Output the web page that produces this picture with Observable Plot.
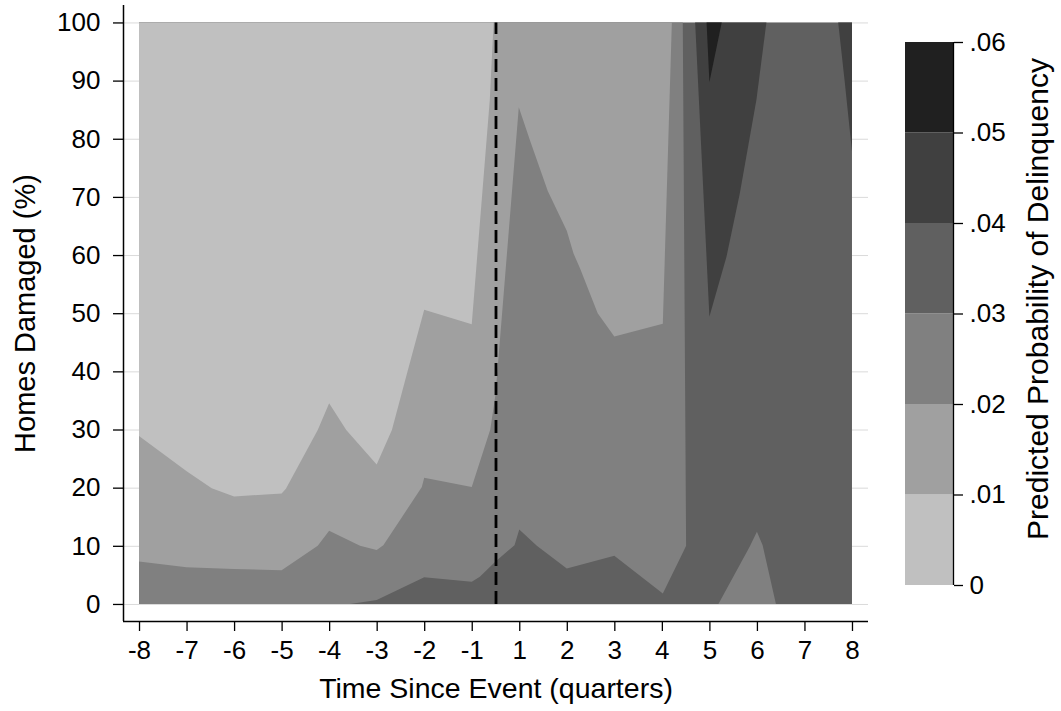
<!DOCTYPE html>
<html>
<head>
<meta charset="utf-8">
<script src="https://cdn.jsdelivr.net/npm/d3@7"></script>
<script src="https://cdn.jsdelivr.net/npm/@observablehq/plot@0.6"></script>
<style>
html, body { margin: 0; padding: 0; background: #fff; }
#wrap { position: relative; width: 1061px; height: 711px; overflow: hidden; }
#wrap svg { position: absolute; top: 0; overflow: visible; }
</style>
</head>
<body>
<div id="wrap"></div>
<script>
// ---- axis categories & ticks ----
const quarters = [-8, -7, -6, -5, -4, -3, -2, -1, 1, 2, 3, 4, 5, 6, 7, 8];
const yTicks = [0, 10, 20, 30, 40, 50, 60, 70, 80, 90, 100];
const levels = [0, 0.01, 0.02, 0.03, 0.04, 0.05, 0.06];
const levelColors = ["#c0c0c0", "#a0a0a0", "#808080", "#606060", "#404040", "#202020"];
const xTitle = "Time Since Event (quarters)";
const yTitle = "Homes Damaged (%)";
const legendTitle = "Predicted Probability of Delinquency";

// ---- contour region boundaries (x = position on the quarter axis, 0 = -8 ... 15 = 8; y = % homes damaged) ----
// .01-.02 band: lower edge (top edge = 100)
const band1X  = [0, 1, 2, 3, 3.76, 4, 4.65, 5, 5.14, 5.95, 6, 7, 7.39, 7.5, 7.99, 8.23, 8.6, 9.0, 9.14, 9.28, 9.65, 10, 11.02, 11.21];
const band1Lo = [7.3, 6.3, 6.0, 5.8, 10.0, 12.6, 10.0, 9.3, 10.1, 20.1, 21.7, 20.1, 30.0, 36.0, 85.4, 79.6, 71.0, 64.2, 60.3, 57.7, 50.0, 46.0, 48.2, 100];
// 0-.01 band (light, top-left): lower edge
const band0X  = [0, 1.01, 1.53, 2, 3, 3.09, 3.76, 4, 4.36, 5, 5.32, 5.65, 6, 7, 7.38, 7.46];
const band0Lo = [28.9, 22.8, 19.9, 18.5, 19.0, 19.8, 29.9, 34.5, 29.9, 24.0, 29.9, 40.0, 50.6, 48.1, 86.7, 100];
// .02-.03 band (left/centre): lower and upper edge
const band2X  = [0, 4.44, 5.0, 6.0, 7.0, 7.17, 7.5, 7.9, 8.0, 8.37, 9.0, 10.0, 11.02, 11.44, 11.51];
const band2Lo = [0, 0, 0.7, 4.6, 3.8, 4.7, 7.3, 10.1, 12.8, 10.0, 6.1, 8.3, 1.8, 8.8, 10.0];
const band2Hi = [100, 100, 100, 100, 100, 100, 100, 100, 100, 100, 100, 100, 100, 100, 10.0];
// .02-.03 band (bottom triangle near quarter 6)
const band2bX  = [12.19, 12.85, 13.0, 13.12, 13.4];
const band2bHi = [0, 9.9, 12.4, 10.1, 0];
// .04-.05 band (top wedge near quarter 5-6): lower edge
const band4X  = [11.7, 12.0, 12.36, 12.64, 12.99, 13.2];
const band4Lo = [100, 49.4, 59.7, 70.6, 86.7, 100];
// .04-.05 band (top-right corner)
const band4bX  = [14.71, 14.85, 15];
const band4bLo = [100, 89.6, 77.8];
// .05-.06 band (top tip near quarter 5)
const band5X  = [11.94, 12.0, 12.26];
const band5Lo = [100, 89.7, 100];

// ---- layout ----
const FONT = '"Liberation Sans", Arial, Helvetica, sans-serif';
const pos = d3.range(quarters.length);
const eventPos = quarters.indexOf(-1) + 0.5;
const xDomain = [-0.337, pos[pos.length - 1] + 0.337];
const yDomain = [-2.93, 103.0];
const yTop = yTicks[yTicks.length - 1];
const yBottom = yTicks[0];

function rows(xs, lo, hi) {
  return xs.map((x, i) => ({
    x,
    y1: lo === null ? yBottom : lo[i],
    y2: hi === null ? yTop : hi[i]
  }));
}
const fullRect = rows([pos[0], pos[pos.length - 1]], null, null);

const areaOpts = (fill) => ({x: "x", y1: "y1", y2: "y2", fill, stroke: "none"});

const main = Plot.plot({
  width: 1061,
  height: 711,
  marginLeft: 123,
  marginRight: 193,
  marginTop: 5,
  marginBottom: 90,
  style: {fontFamily: FONT, fontSize: "26px", color: "#000", background: "transparent"},
  x: {domain: xDomain, label: null},
  y: {domain: yDomain, label: null},
  marks: [
    Plot.gridY(yTicks, {stroke: "#dadada", strokeOpacity: 1, strokeWidth: 1}),
    Plot.areaY(fullRect, areaOpts(levelColors[3])),
    Plot.areaY(rows(band2X, band2Lo, band2Hi), areaOpts(levelColors[2])),
    Plot.areaY(rows(band2bX, null, band2bHi), areaOpts(levelColors[2])),
    Plot.areaY(rows(band1X, band1Lo, null), areaOpts(levelColors[1])),
    Plot.areaY(rows(band0X, band0Lo, null), areaOpts(levelColors[0])),
    Plot.areaY(rows(band4X, band4Lo, null), areaOpts(levelColors[4])),
    Plot.areaY(rows(band4bX, band4bLo, null), areaOpts(levelColors[4])),
    Plot.areaY(rows(band5X, band5Lo, null), areaOpts(levelColors[5])),
    Plot.ruleX([eventPos], {y1: yBottom, y2: yTop, stroke: "#000", strokeWidth: 2.8, strokeDasharray: "13,6"}),
    Plot.ruleX([xDomain[0]], {stroke: "#000", strokeWidth: 1.5}),
    Plot.ruleY([yDomain[0]], {stroke: "#000", strokeWidth: 1.5}),
    Plot.axisX(pos, {tickSize: 10, tickPadding: 9, strokeWidth: 1.3, tickFormat: (i) => String(quarters[i]), label: null, fontSize: 26}),
    Plot.axisY(yTicks, {tickSize: 10, tickPadding: 13, strokeWidth: 1.3, label: null, fontSize: 26}),
    Plot.text([xTitle], {frameAnchor: "bottom", textAnchor: "middle", lineAnchor: "middle", dy: 67, fontSize: 28.5, fill: "#000"}),
    Plot.text([yTitle], {frameAnchor: "left", textAnchor: "middle", lineAnchor: "middle", dx: -98, rotate: -90, fontSize: 29, fill: "#000"})
  ]
});

const bands = levelColors.map((c, i) => ({lo: levels[i], hi: levels[i + 1], fill: c}));
const fmt = (d) => d === 0 ? "0" : d3.format(".2f")(d).replace(/^0/, "");

const bar = Plot.plot({
  width: 171,
  height: 711,
  marginLeft: 15,
  marginRight: 108,
  marginTop: 42,
  marginBottom: 126,
  style: {fontFamily: FONT, fontSize: "26px", color: "#000", background: "transparent"},
  x: {domain: [0, 1], axis: null},
  y: {domain: [levels[0], levels[levels.length - 1]], label: null},
  color: {type: "identity"},
  marks: [
    Plot.rect(bands, {y1: "lo", y2: "hi", fill: "fill"}),
    Plot.ruleX([1], {y1: levels[0], y2: levels[levels.length - 1], stroke: "#000", strokeWidth: 1.3}),
    Plot.axisY(levels, {anchor: "right", tickSize: 9, tickPadding: 7, strokeWidth: 1.3, tickFormat: fmt, label: null, fontSize: 26}),
    Plot.text([legendTitle], {frameAnchor: "right", textAnchor: "middle", lineAnchor: "middle", dx: 85, dy: -15, rotate: -90, fontSize: 30, fill: "#000"})
  ]
});

const wrap = document.getElementById("wrap");
main.style.left = "0px";
bar.style.left = "890px";
wrap.appendChild(main);
wrap.appendChild(bar);
</script>
</body>
</html>
